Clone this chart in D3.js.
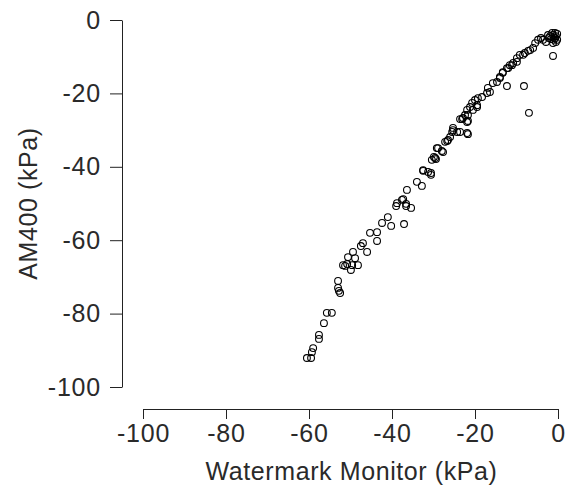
<!DOCTYPE html>
<html>
<head>
<meta charset="utf-8">
<script src="https://cdn.jsdelivr.net/npm/d3@7"></script>
<style>
  html, body { margin: 0; padding: 0; background: #fff; }
  svg { display: block; }
  text { font-family: "Liberation Sans", Arial, sans-serif; fill: #2a2a2a; }
</style>
</head>
<body>
<div id="chart"></div>
<script>
// Watermark Monitor readings (kPa)
const watermark = [
  -1.4,-1.2,-0.7,-1.9,-0.5,-2.4,-1.0,-0.2,-1.7,-0.5,-1.2,-2.2,-0.2,-0.7,
  -1.2,
  -3.6,-4.8,-5.5,-4.1,-2.9,
  -6.0,-7.2,-8.0,-6.7,
  -9.2,-9.9,-8.4,
  -10.8,-11.6,-12.0,-9.9,-11.1,
  -12.3,-13.3,-14.0,-14.7,-15.7,-13.3,-14.0,
  -12.3,-8.2,-7.0,
  -16.9,-17.1,-16.4,-18.3,
  -19.3,-20.0,-20.7,-21.2,-19.5,-21.9,-20.5,-19.5,
  -21.7,-22.9,-21.9,-23.6,-22.4,-23.1,-21.7,
  -25.3,-25.5,-23.6,-21.9,-21.7,-25.3,-24.3,
  -26.0,-26.7,-26.5,-27.2,
  -28.9,-28.0,-29.2,-27.7,
  -29.6,-30.4,-29.9,-29.4,
  -32.5,-31.3,-30.6,-32.5,-30.6,
  -34.0,-32.8,
  -36.4,
  -37.6,-38.8,-36.6,-37.3,-39.0,-36.6,-35.4,
  -41.0,-42.4,-40.2,-37.1,
  -43.6,-45.3,-43.6,
  -47.0,-47.5,-46.0,
  -49.4,-50.6,-48.9,-51.8,-49.6,-48.2,-49.9,-51.3,-50.8,
  -53.0,-53.0,-52.5,-52.8,
  -55.7,-54.5,
  -56.4,
  -57.6,-57.6,
  -59.0,-59.3,
  -60.5,-59.5
];
// AM400 readings (kPa)
const am400 = [
  -3.5,-4.1,-4.9,-4.4,-6.0,-4.1,-5.4,-3.8,-5.2,-4.4,-6.3,-4.9,-5.4,-3.5,
  -9.8,
  -5.4,-5.4,-6.3,-4.9,-6.0,
  -7.6,-8.4,-9.0,-8.2,
  -9.5,-10.4,-9.5,
  -11.7,-12.3,-13.1,-11.4,-12.3,
  -13.1,-14.4,-15.5,-16.9,-17.2,-14.2,-15.8,
  -18.0,-18.0,-25.3,
  -18.5,-19.9,-19.6,-21.0,
  -21.3,-21.8,-22.6,-23.7,-23.7,-24.5,-24.5,-23.2,
  -25.9,-26.7,-27.8,-27.0,-25.9,-27.0,-27.5,
  -29.4,-30.5,-30.5,-30.8,-31.1,-30.0,-30.5,
  -31.9,-33.0,-32.7,-33.2,
  -34.9,-35.7,-34.9,-36.0,
  -37.6,-38.1,-37.3,-37.9,
  -40.9,-41.4,-42.2,-41.1,-41.7,
  -44.1,-45.2,
  -46.3,
  -49.0,-49.9,-50.1,-48.8,-50.7,-50.7,-51.2,
  -53.7,-55.3,-56.1,-55.6,
  -57.8,-58.0,-60.2,
  -60.8,-61.6,-63.2,
  -63.2,-64.6,-64.9,-66.8,-66.8,-66.8,-68.1,-67.0,-66.5,
  -71.1,-73.0,-74.4,-73.8,
  -79.8,-79.8,
  -82.6,
  -85.8,-86.9,
  -89.4,-90.5,
  -92.1,-92.1
];
const xTicks = [-100, -80, -60, -40, -20, 0];
const yTicks = [-100, -80, -60, -40, -20, 0];
const xTitle = "Watermark Monitor (kPa)";
const yTitle = "AM400 (kPa)";

const W = 569, H = 490;
const svg = d3.select("#chart").append("svg").attr("width", W).attr("height", H);

const x = d3.scaleLinear().domain([-100, 0]).range([143, 558]);
const y = d3.scaleLinear().domain([-100, 0]).range([387, 20]);

const fontSize = 25;
const fmt = d => String(d); // plain hyphen-minus like the reference

// x axis (detached, R style)
const gx = svg.append("g").attr("transform", "translate(0,409)")
  .call(d3.axisBottom(x).tickValues(xTicks).tickSize(10).tickPadding(5).tickSizeOuter(0).tickFormat(fmt));
gx.select(".domain").attr("stroke", "#222");
gx.selectAll(".tick line").attr("stroke", "#222");
gx.selectAll(".tick text").attr("font-size", fontSize).attr("font-family", "Liberation Sans, Arial, sans-serif")
  .attr("fill", "#2a2a2a").attr("letter-spacing", "0.8px");

// y axis
const gy = svg.append("g").attr("transform", "translate(122,0)")
  .call(d3.axisLeft(y).tickValues(yTicks).tickSize(12).tickPadding(9).tickSizeOuter(0).tickFormat(fmt));
gy.select(".domain").attr("stroke", "#222");
gy.selectAll(".tick line").attr("stroke", "#222");
gy.selectAll(".tick text").attr("font-size", fontSize).attr("font-family", "Liberation Sans, Arial, sans-serif")
  .attr("fill", "#2a2a2a").attr("letter-spacing", "0.8px");

// titles
svg.append("text").attr("x", (x(-100) + x(0)) / 2 + 1).attr("y", 480)
  .attr("text-anchor", "middle").attr("font-size", fontSize).attr("letter-spacing", "0.6px").text(xTitle);
svg.append("text")
  .attr("transform", `translate(37,${(y(-100) + y(0)) / 2}) rotate(-90)`)
  .attr("text-anchor", "middle").attr("font-size", fontSize).attr("letter-spacing", "0.6px").text(yTitle);

// points
const pts = watermark.map((w, i) => ({ w, a: am400[i] }));
svg.append("g").selectAll("circle").data(pts).join("circle")
  .attr("cx", d => x(d.w)).attr("cy", d => y(d.a)).attr("r", 3.4)
  .attr("fill", "none").attr("stroke", "#000").attr("stroke-width", 1.1);
</script>
</body>
</html>
